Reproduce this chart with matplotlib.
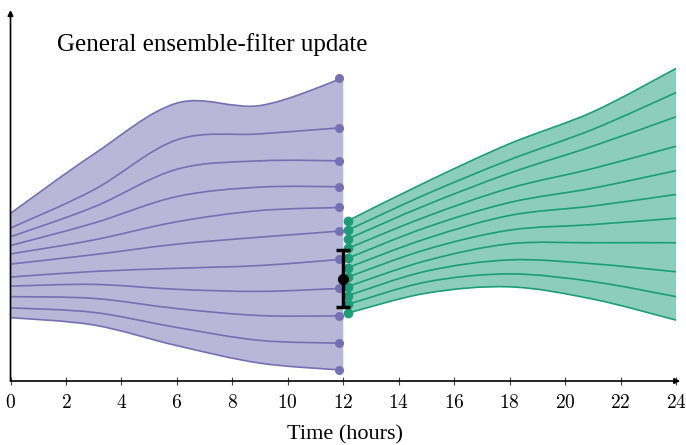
import matplotlib
matplotlib.use("Agg")
import matplotlib.pyplot as plt
from matplotlib.path import Path
import matplotlib.patches as patches
import numpy as np

PURPLE = "#7570b3"
GREEN = "#1b9e77"
AXIS = "#444444"

plt.rcParams.update({
    "font.family": "serif",
    "font.serif": ["Liberation Serif", "DejaVu Serif"],
    "mathtext.fontset": "cm",
})

# forecast ensemble, hours 0-12
fc_hours = [0, 3, 6, 9, 12]
fc_members = [
    [4.79, 6.48, 7.94, 7.87, 8.66],
    [4.37, 5.46, 6.89, 7.06, 7.24],
    [4.12, 4.97, 6.05, 6.29, 6.29],
    [3.87, 4.51, 5.27, 5.54, 5.55],
    [3.63, 4.03, 4.55, 4.87, 4.96],
    [3.34, 3.61, 3.91, 4.11, 4.29],
    [2.97, 3.13, 3.22, 3.30, 3.48],
    [2.71, 2.76, 2.62, 2.56, 2.65],
    [2.41, 2.36, 2.07, 1.87, 1.86],
    [2.09, 1.96, 1.53, 1.16, 1.08],
    [1.81, 1.60, 1.01, 0.51, 0.31],
]
fc_dot_hour = 11.83

# analysis ensemble, hours 12-24
an_hours = [12.17, 15, 18, 21, 24]
an_members = [
    [4.58, 5.69, 6.78, 7.69, 8.93],
    [4.31, 5.34, 6.32, 7.19, 8.24],
    [4.06, 5.03, 5.94, 6.71, 7.55],
    [3.79, 4.70, 5.51, 6.07, 6.71],
    [3.51, 4.39, 5.10, 5.51, 6.01],
    [3.24, 4.07, 4.73, 5.00, 5.33],
    [2.97, 3.76, 4.31, 4.47, 4.65],
    [2.70, 3.44, 3.92, 3.95, 3.95],
    [2.44, 3.14, 3.46, 3.35, 3.12],
    [2.19, 2.83, 3.06, 2.84, 2.41],
    [1.94, 2.51, 2.69, 2.34, 1.74],
]

# observation
obs_hour = 12
obs_value = 2.92
obs_err = 0.81

xticks = list(range(0, 25, 2))


def smooth(xs, ys):
    # catmull-rom knots -> cubic bezier path pieces
    pts = np.column_stack([xs, ys]).astype(float)
    n = len(pts)
    verts = [pts[0]]
    codes = [Path.MOVETO]
    for i in range(n - 1):
        p0 = pts[max(i - 1, 0)]
        p1 = pts[i]
        p2 = pts[i + 1]
        p3 = pts[min(i + 2, n - 1)]
        verts += [p1 + (p2 - p0) / 6, p2 - (p3 - p1) / 6, p2]
        codes += [Path.CURVE4] * 3
    return verts, codes


def draw_ensemble(ax, xs, members, color, z):
    top_v, top_c = smooth(xs, members[0])
    bot_v, bot_c = smooth(xs, members[-1])
    verts = top_v + bot_v[::-1] + [top_v[0]]
    codes = top_c + [Path.LINETO] + [Path.CURVE4] * (len(bot_c) - 1) + [Path.CLOSEPOLY]
    ax.add_patch(patches.PathPatch(Path(verts, codes), facecolor=color,
                                   alpha=0.5, edgecolor="none", zorder=z))
    for m in members:
        v, c = smooth(xs, m)
        ax.add_patch(patches.PathPatch(Path(v, c), facecolor="none",
                                       edgecolor=color, lw=1.2, zorder=z + 1))


fig = plt.figure(figsize=(6.86, 4.45), dpi=100)
ax = fig.add_axes([10.5 / 686, 64 / 445, 669.7 / 686, 371 / 445])
ax.set_xlim(0, 24.15)
ax.set_ylim(0, 10.6)

draw_ensemble(ax, fc_hours, fc_members, PURPLE, 1)
ax.plot([fc_dot_hour] * len(fc_members), [m[-1] for m in fc_members], "o",
        color=PURPLE, ms=6.5, mec="none", zorder=3)

draw_ensemble(ax, an_hours, an_members, GREEN, 4)
ax.plot([an_hours[0]] * len(an_members), [m[0] for m in an_members], "o",
        color=GREEN, ms=7, mec="none", zorder=6)

ax.errorbar([obs_hour], [obs_value], yerr=[obs_err], fmt="o", color="black",
            ms=7, lw=2.5, capsize=5, capthick=2.5, zorder=8)

ax.text(1.68, 9.6, "General ensemble-filter update", fontsize=18,
        ha="left", va="center")

for sp in ax.spines.values():
    sp.set_visible(False)
ax.annotate("", xy=(1, 0), xytext=(0, 0), xycoords="axes fraction",
            arrowprops=dict(arrowstyle="-|>", color="black", lw=1.2,
                            mutation_scale=8, shrinkA=0, shrinkB=0))
ax.annotate("", xy=(0, 1), xytext=(0, 0), xycoords="axes fraction",
            arrowprops=dict(arrowstyle="-|>", color="black", lw=1.2,
                            mutation_scale=8, shrinkA=0, shrinkB=0))

ax.set_xticks(xticks)
ax.set_xticklabels([f"${t}$" for t in xticks], fontsize=14)
ax.set_yticks([])
ax.tick_params(axis="x", direction="inout", length=6, width=0.8,
               color=AXIS, pad=6)
ax.set_xlabel("Time (hours)", fontsize=16, labelpad=10)

fig.savefig("out.png", dpi=100)
